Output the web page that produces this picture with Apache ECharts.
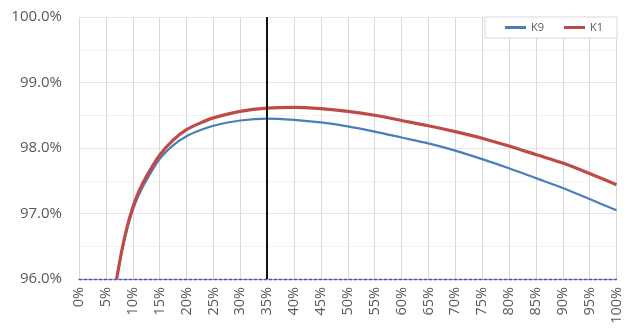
<!DOCTYPE html>
<html>
<head>
<meta charset="utf-8">
<script src="https://cdn.jsdelivr.net/npm/echarts@6/dist/echarts.min.js"></script>
<style>html,body{margin:0;padding:0;background:#fff;}#c{width:624px;height:332px;}</style>
</head>
<body>
<div id="c"></div>
<script>
var xValues = [7, 8, 9, 10, 11, 12.5, 15, 17.5, 20, 22.5, 25, 30, 35, 40, 45, 50, 55, 60, 65, 70, 75, 80, 85, 90, 95, 100];
var k1Values = [96.0, 96.45, 96.81, 97.09, 97.31, 97.56, 97.89, 98.12, 98.28, 98.38, 98.46, 98.56, 98.61, 98.62, 98.60, 98.56, 98.50, 98.42, 98.34, 98.25, 98.15, 98.03, 97.90, 97.77, 97.61, 97.44];
var k9Values = [96.0, 96.43, 96.78, 97.05, 97.26, 97.50, 97.83, 98.04, 98.18, 98.27, 98.34, 98.42, 98.45, 98.43, 98.39, 98.33, 98.25, 98.16, 98.07, 97.96, 97.83, 97.69, 97.54, 97.39, 97.22, 97.05];
var markerX = 35;
var seriesNames = ['K9', 'K1'];

function pairs(ys) { return xValues.map(function (x, i) { return [x, ys[i]]; }); }

var chart = echarts.init(document.getElementById('c'));
chart.setOption({
  animation: false,
  textStyle: { fontFamily: 'Open Sans' },
  grid: { left: 79, right: 7, top: 17, bottom: 53 },
  legend: {
    data: seriesNames,
    top: 17, right: 7,
    padding: [5, 14, 5, 20],
    itemGap: 20,
    itemWidth: 21, itemHeight: 3,
    icon: 'rect',
    borderColor: '#d9d9d9', borderWidth: 1,
    backgroundColor: '#fff',
    textStyle: { fontSize: 11, color: '#595959' }
  },
  xAxis: {
    type: 'value', min: 0, max: 100, interval: 5,
    axisLine: { show: true, onZero: false, lineStyle: { color: '#5050c0', type: [3, 2], width: 1.3 } },
    axisTick: { show: false },
    axisLabel: { rotate: 90, fontSize: 14.5, color: '#595959', margin: 8, formatter: '{value}%' },
    splitLine: { show: true, lineStyle: { color: '#d9d9d9', width: 1 } }
  },
  yAxis: {
    type: 'value', min: 96, max: 100, interval: 1,
    axisLine: { show: false }, axisTick: { show: false },
    axisLabel: { fontSize: 15, color: '#595959', margin: 17, formatter: function (v) { return v.toFixed(1) + '%'; } },
    splitLine: { show: true, lineStyle: { color: '#e6e6e6', width: 1 } },
    minorTick: { show: false, splitNumber: 2 },
    minorSplitLine: { show: true, lineStyle: { color: '#f4f4f4', width: 1 } }
  },
  series: [
    {
      name: 'K9', type: 'line', smooth: 0.3, showSymbol: false,
      data: pairs(k9Values), color: '#4a7ebb',
      lineStyle: { width: 2.2, color: '#4a7ebb' }, z: 3
    },
    {
      name: 'K1', type: 'line', smooth: 0.3, showSymbol: false,
      data: pairs(k1Values), color: '#be4b48',
      lineStyle: { width: 3.2, color: '#be4b48' }, z: 4,
      markLine: {
        silent: true, symbol: 'none', label: { show: false },
        lineStyle: { color: '#111', width: 2, type: 'solid' },
        data: [{ xAxis: markerX }]
      }
    }
  ]
});
</script>
</body>
</html>
